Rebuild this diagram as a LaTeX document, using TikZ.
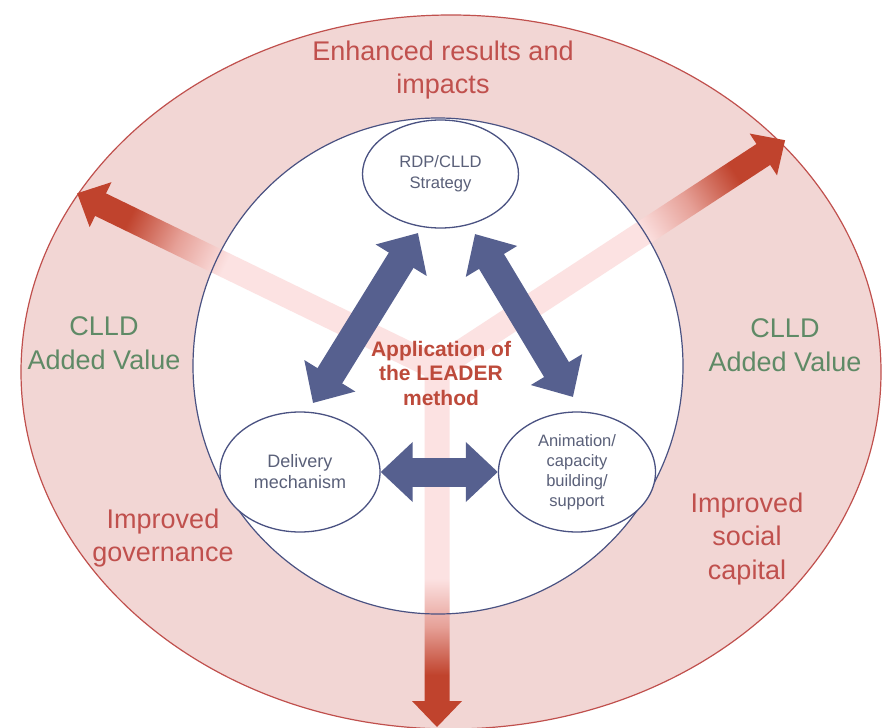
\documentclass[tikz,border=0pt]{standalone}
\usepackage{fontspec}
\setmainfont{Liberation Sans}
\usetikzlibrary{shapes.geometric,arrows.meta}
\definecolor{ringfill}{HTML}{F2D6D4}
\definecolor{ringline}{HTML}{C0504D}
\definecolor{navyline}{HTML}{4A5282}
\definecolor{blueA}{HTML}{56608F}
\definecolor{redtext}{HTML}{C0504D}
\definecolor{leadertext}{HTML}{BD4A3B}
\definecolor{greentext}{HTML}{5F8A66}
\definecolor{nodetext}{HTML}{5A6079}
\definecolor{palepink}{HTML}{FCE2E2}
\definecolor{midred}{HTML}{E6A097}
\definecolor{darkred}{HTML}{C0432D}
\pgfdeclarehorizontalshading{redgrad}{100bp}{color(0bp)=(palepink); color(55bp)=(palepink); color(61.5bp)=(midred); color(68bp)=(darkred); color(100bp)=(darkred)}
\newcommand{\redarm}[2]{%
  \begin{scope}[transform canvas={shift={(437,368)},rotate=#1}]
    \shade[shading=redgrad] (-12,-12.5) -- (#2-26,-12.5) -- (#2-26,-25) -- (#2,0) -- (#2-26,25) -- (#2-26,12.5) -- (-12,12.5) -- cycle;
  \end{scope}}
\begin{document}
\begin{tikzpicture}[x=1pt,y=-1pt,
  nodeell/.style={ellipse, draw=navyline, line width=1.3pt, fill=white, inner sep=0pt, align=center, text=nodetext},
  bluearrow/.style={draw=blueA, line width=29pt, {Triangle[length=32pt,width=58pt]}-{Triangle[length=32pt,width=58pt]}},
  biglabel/.style={align=center, font=\fontsize{27}{33.5}\selectfont},
  leaderlabel/.style={align=center, text=leadertext, font=\fontsize{21}{24.5}\selectfont\bfseries}]
\useasboundingbox (0,0) rectangle (884,728);
\fill[white] (0,0) rectangle (884,728);
% outer ring
\draw[fill=ringfill, draw=ringline, line width=1.2pt] (451,372) ellipse [x radius=430, y radius=357];
% inner circle fill
\fill[white] (438,366) ellipse [x radius=245, y radius=248];
% red gradient arms
\redarm{154.1}{400}
\redarm{33.2}{416}
\redarm{-90}{359}
% inner circle border
\draw[navyline, line width=1.2pt] (438,366) ellipse [x radius=245, y radius=248];
% nodes
\node[nodeell, minimum width=156, minimum height=108, font=\fontsize{16.6}{21}\selectfont] (rdp) at (440.5,174) {RDP/CLLD\\Strategy};
\node[nodeell, minimum width=160, minimum height=120, font=\fontsize{18}{21}\selectfont] (del) at (300,472) {Delivery\\mechanism};
\node[nodeell, minimum width=157, minimum height=120, font=\fontsize{16.5}{20}\selectfont] (anim) at (577,472) {Animation/\\capacity\\building/\\support};
% arrow end points
\coordinate (la) at (418,233);
\coordinate (lb) at (313,403);
\coordinate (ra) at (475,234);
\coordinate (rb) at (573,397);
\draw[bluearrow] (la) -- (lb);
\draw[bluearrow] (ra) -- (rb);
\draw[bluearrow] (del.east) -- (anim.west);
% labels
\node[biglabel, text=redtext] (enh) at (443,70) {Enhanced results and\\impacts};
\node[biglabel, text=greentext] (clldL) at (104,343) {CLLD\\Added Value};
\node[biglabel, text=greentext] (clldR) at (785,345) {CLLD\\Added Value};
\node[biglabel, text=redtext] (gov) at (163,538) {Improved\\governance};
\node[biglabel, text=redtext] (soc) at (747,539) {Improved\\social\\capital};
\node[leaderlabel] (leader) at (441,373) {Application of\\the LEADER\\method};
\end{tikzpicture}
\end{document}
